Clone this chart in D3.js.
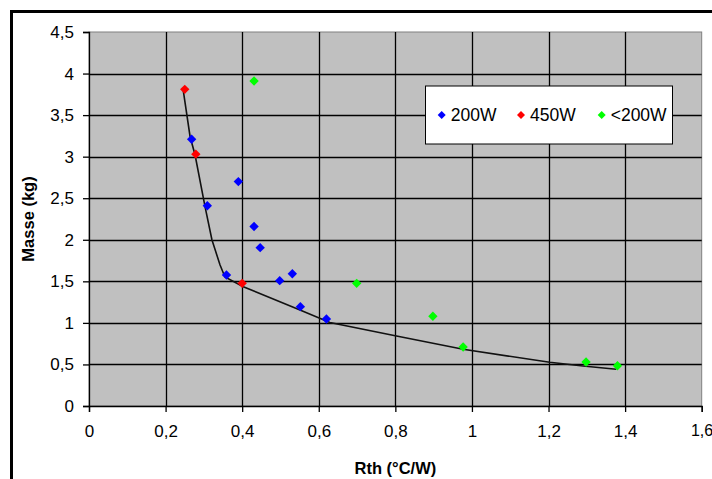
<!DOCTYPE html>
<html><head><meta charset="utf-8">
<script src="https://cdn.jsdelivr.net/npm/d3@7"></script>
<style>
body{margin:0;background:#fff;}
svg{display:block;font-family:Arial,"Liberation Sans",sans-serif;}
</style></head>
<body><svg id="c" width="712" height="479"></svg>
<script>
// Data
const xTicks = [0, 0.2, 0.4, 0.6, 0.8, 1, 1.2, 1.4, 1.6];
const yTicks = [0, 0.5, 1, 1.5, 2, 2.5, 3, 3.5, 4, 4.5];
const seriesNames = ["200W", "450W", "<200W"];
const seriesColors = ["#0000FF", "#FF0000", "#00FF00"];
const s200W = [[0.268,3.21],[0.39,2.70],[0.309,2.41],[0.431,2.16],[0.447,1.905],[0.359,1.576],[0.531,1.592],[0.498,1.508],[0.552,1.195],[0.62,1.047]];
const s450W = [[0.25,3.81],[0.279,3.03],[0.40,1.476]];
const sLess200W = [[0.431,3.91],[0.699,1.476],[0.898,1.08],[0.977,0.71],[1.298,0.529],[1.38,0.485]];
const curve = [[0.246,3.80],[0.264,3.24],[0.277,3.02],[0.303,2.40],[0.321,2.00],[0.342,1.70],[0.355,1.552],[0.403,1.436],[0.551,1.155],[0.629,1.005],[0.803,0.842],[0.977,0.682],[1.203,0.526],[1.29,0.481],[1.377,0.442]];

const svg = d3.select("#c");
const L = 89, T = 32, R = 701.7, B = 406;
const x = d3.scaleLinear().domain([0,1.6]).range([L,R]);
const y = d3.scaleLinear().domain([0,4.5]).range([B,T]);
const fmt = d => String(d).replace(".", ",");

// outer frame (top & left visible)
svg.append("path").attr("d","M11.5,500 V11.5 H720").attr("fill","none").attr("stroke","#000").attr("stroke-width",3);

// plot area
svg.append("rect").attr("x",L).attr("y",T).attr("width",R-L).attr("height",B-T)
  .attr("fill","#C0C0C0").attr("stroke","#808080").attr("stroke-width",1);

// gridlines
svg.append("g").selectAll("line").data(xTicks.filter(d=>d>0 && d<1.6)).join("line")
  .attr("x1",d=>Math.round(x(d))+0.5).attr("x2",d=>Math.round(x(d))+0.5).attr("y1",T).attr("y2",B)
  .attr("stroke","#000").attr("stroke-width",1.3);
svg.append("g").selectAll("line").data(yTicks.filter(d=>d>0 && d<4.5)).join("line")
  .attr("y1",d=>Math.round(y(d))+0.5).attr("y2",d=>Math.round(y(d))+0.5).attr("x1",L).attr("x2",R)
  .attr("stroke","#000").attr("stroke-width",1.3);

// axes
const xAxis = d3.axisBottom(x).tickValues(xTicks).tickFormat(fmt).tickSize(6).tickPadding(13);
const yAxis = d3.axisLeft(y).tickValues(yTicks).tickFormat(fmt).tickSize(6).tickPadding(9);
const gx = svg.append("g").attr("transform",`translate(0,${B})`).call(xAxis);
const gy = svg.append("g").attr("transform",`translate(${L},0)`).call(yAxis);
[gx,gy].forEach(g=>{
  g.select(".domain").attr("stroke","#000").attr("stroke-width",1.3);
  g.selectAll(".tick line").attr("stroke","#000").attr("stroke-width",1.3);
  g.selectAll("text").attr("fill","#000").style("font-size","17px").style("font-family","Arial,'Liberation Sans',sans-serif");
});
// keep the last x label inside the window
gx.selectAll(".tick text").filter(d=>d===1.6).attr("text-anchor","end").attr("dx","11px").style("font-size","16px");

// axis titles
svg.append("text").attr("x",(L+R)/2).attr("y",474).attr("text-anchor","middle")
  .style("font-size","16.5px").style("font-weight","bold").text("Rth (°C/W)");
svg.append("text").attr("transform",`translate(34,${(T+B)/2}) rotate(-90)`).attr("text-anchor","middle")
  .style("font-size","16.5px").style("font-weight","bold").text("Masse (kg)");

// curve
svg.append("path").datum(curve)
  .attr("d", d3.line().x(d=>x(d[0])).y(d=>y(d[1])))
  .attr("fill","none").attr("stroke","#111").attr("stroke-width",1.6);

// markers
const diamond = d3.symbol(d3.symbolSquare, 44);
const allSeries = [s200W, s450W, sLess200W];
allSeries.forEach((s,i)=>{
  svg.append("g").selectAll("path").data(s).join("path")
    .attr("d", diamond)
    .attr("transform", d=>`translate(${x(d[0])},${y(d[1])}) rotate(45)`)
    .attr("fill", seriesColors[i]);
});

// legend
const lg = svg.append("g");
lg.append("rect").attr("x",425.5).attr("y",86).attr("width",247).attr("height",58)
  .attr("fill","#fff").attr("stroke","#000").attr("stroke-width",1);
const lx = [441.7, 521, 601.7];
seriesNames.forEach((n,i)=>{
  lg.append("path").attr("d", d3.symbol(d3.symbolSquare, 32))
    .attr("transform",`translate(${lx[i]},115) rotate(45)`).attr("fill",seriesColors[i]);
  lg.append("text").attr("x",lx[i]+9).attr("y",121).style("font-size","17.5px").text(n);
});
</script></body></html>
